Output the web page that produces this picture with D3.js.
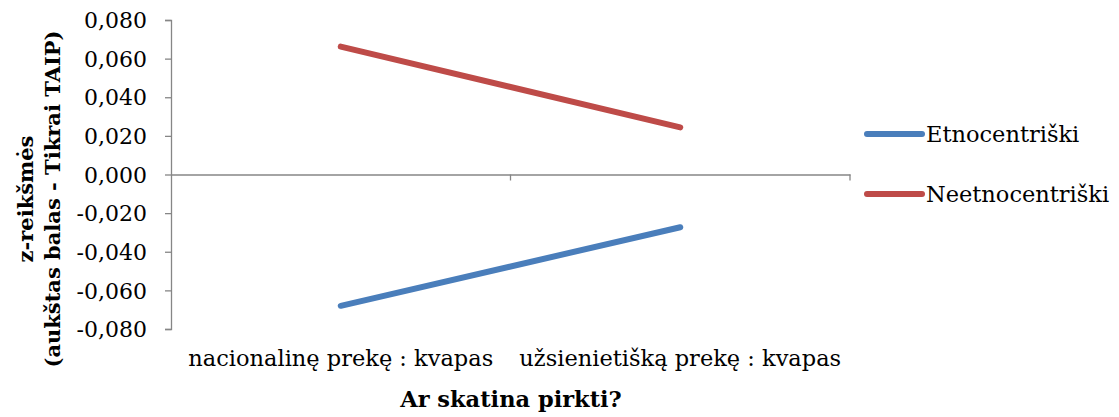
<!DOCTYPE html>
<html>
<head>
<meta charset="utf-8">
<script src="https://cdn.jsdelivr.net/npm/d3@7"></script>
<style>
  body { margin: 0; background: #fff; }
  text { font-family: "DejaVu Serif", serif; fill: #000; }
</style>
</head>
<body>
<div id="chart"></div>
<script>
const categories = ["nacionalinę prekę : kvapas", "užsienietišką prekę : kvapas"];
const seriesNames = ["Etnocentriški", "Neetnocentriški"];
const etnoValues = [-0.068, -0.0273];
const neetnoValues = [0.0662, 0.0244];
const yTicks = [-0.08, -0.06, -0.04, -0.02, 0, 0.02, 0.04, 0.06, 0.08];
const colors = ["#4A7EBB", "#BE4B48"];

const width = 1119, height = 417;
const plotLeft = 171, plotRight = 850, plotTop = 20, plotBottom = 329;

const svg = d3.select("#chart").append("svg")
    .attr("width", width)
    .attr("height", height);

const x = d3.scaleBand()
    .domain(categories)
    .range([plotLeft, plotRight]);

const y = d3.scaleLinear()
    .domain([-0.08, 0.08])
    .range([plotBottom, plotTop]);

const fmt = v => d3.format(".3f")(v).replace(".", ",").replace("−", "-");

// y axis
const yAxis = svg.append("g")
    .attr("transform", `translate(${plotLeft},0)`)
    .call(d3.axisLeft(y).tickValues(yTicks).tickFormat(fmt).tickSize(6).tickSizeOuter(6).tickPadding(18));
yAxis.select(".domain").attr("stroke", "#868686").attr("stroke-width", 1.3);
yAxis.selectAll(".tick line").attr("stroke", "#868686").attr("stroke-width", 1.3);
yAxis.selectAll(".tick text").style("font-size", "22px").attr("dy", "0.35em");

// x axis at zero
const xAxis = svg.append("g")
    .attr("transform", `translate(0,${y(0)})`)
    .call(d3.axisBottom(x).tickValues([]).tickSizeOuter(0));
xAxis.select(".domain").attr("stroke", "#868686").attr("stroke-width", 1.3);
const boundaries = [x.range()[0] + x.bandwidth(), x.range()[1]];
xAxis.selectAll(".xtick")
    .data(boundaries)
    .enter().append("line")
    .attr("x1", d => d).attr("x2", d => d)
    .attr("y1", 0).attr("y2", 6)
    .attr("stroke", "#868686").attr("stroke-width", 1.3);

// category labels at bottom
svg.selectAll(".cat")
    .data(categories)
    .enter().append("text")
    .attr("x", d => x(d) + x.bandwidth() / 2)
    .attr("y", 366)
    .attr("text-anchor", "middle")
    .style("font-size", "22.5px")
    .text(d => d);

// axis titles
svg.append("text")
    .attr("x", 511)
    .attr("y", 407)
    .attr("text-anchor", "middle")
    .style("font-size", "22.5px")
    .style("font-weight", "bold")
    .text("Ar skatina pirkti?");

const yTitle = svg.append("text")
    .attr("transform", "translate(33,199) rotate(-90)")
    .attr("text-anchor", "middle")
    .style("font-size", "21px")
    .style("font-weight", "bold");
yTitle.append("tspan").attr("x", 0).attr("dy", 0).text("z-reikšmės");
yTitle.append("tspan").attr("x", 0).attr("dy", 27).text("(aukštas balas - Tikrai TAIP)");

// lines
const series = [etnoValues, neetnoValues];
const line = d3.line()
    .x((d, i) => x(categories[i]) + x.bandwidth() / 2)
    .y(d => y(d));

svg.selectAll(".series")
    .data(series)
    .enter().append("path")
    .attr("d", d => line(d))
    .attr("fill", "none")
    .attr("stroke", (d, i) => colors[i])
    .attr("stroke-width", 6)
    .attr("stroke-linecap", "round");

// legend
const legend = svg.selectAll(".legend")
    .data(seriesNames)
    .enter().append("g")
    .attr("transform", (d, i) => `translate(867,${134 + i * 60})`);
legend.append("line")
    .attr("x1", 0).attr("x2", 55)
    .attr("stroke", (d, i) => colors[i])
    .attr("stroke-width", 6)
    .attr("stroke-linecap", "round");
legend.append("text")
    .attr("x", 59)
    .attr("dy", "0.35em")
    .style("font-size", "22.5px")
    .text(d => d);
</script>
</body>
</html>
